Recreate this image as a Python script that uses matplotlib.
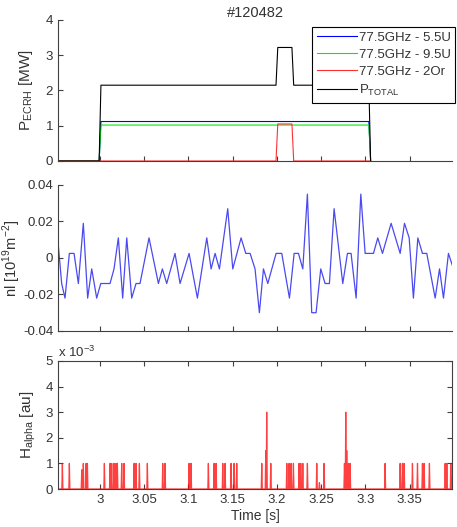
import numpy as np
import matplotlib.pyplot as plt
from matplotlib.ticker import FuncFormatter

plt.rcParams['font.family'] = ['Liberation Sans', 'DejaVu Sans']

# ECRH power [MW]
ecrh_t = [2.9525, 2.999, 3.001, 3.199, 3.201, 3.217, 3.219, 3.304, 3.306]
p_55u = [0, 0, 1.12, 1.12, 1.12, 1.12, 1.12, 1.12, 0]
p_95u = [0, 0, 1.02, 1.02, 1.02, 1.02, 1.02, 1.02, 0]
p_2or = [0, 0, 0, 0, 1.05, 1.05, 0, 0, 0]
p_total = [0, 0, 2.15, 2.15, 3.22, 3.22, 2.15, 2.15, 0]

# line density fluctuation
nl_t = [2.9517, 2.9566, 2.9604, 2.9653, 2.9706, 2.9755, 2.9811, 2.9860, 2.9906, 2.9962,
        3.0008, 3.0113, 3.0158, 3.0207, 3.0256, 3.0302, 3.0358, 3.0407, 3.0452, 3.0554,
        3.0660, 3.0705, 3.0754, 3.0848, 3.0905, 3.1007, 3.1101, 3.1207, 3.1256, 3.1301,
        3.1350, 3.1444, 3.1501, 3.1595, 3.1648, 3.1697, 3.1753, 3.1802, 3.1848, 3.1897,
        3.1991, 3.2055, 3.2142, 3.2195, 3.2244, 3.2293, 3.2345, 3.2394, 3.2443, 3.2496,
        3.2545, 3.2594, 3.2647, 3.2745, 3.2798, 3.2839, 3.2896, 3.2949, 3.2998, 3.3092,
        3.3141, 3.3194, 3.3292, 3.3394, 3.3443, 3.3496, 3.3544, 3.3594, 3.3646, 3.3695,
        3.3790, 3.3839, 3.3884, 3.3940, 3.3997]
nl_v = [0.013, -0.014, -0.022, 0.0025, 0.0025, -0.014, 0.019, -0.022, -0.006, -0.022,
        -0.014, -0.014, -0.006, 0.011, -0.022, 0.011, -0.022, -0.014, -0.014, 0.011,
        -0.014, -0.006, -0.014, 0.0025, -0.014, 0.0025, -0.022, 0.011, -0.006, 0.0025,
        -0.006, 0.027, -0.006, 0.011, 0.0025, 0.0025, -0.006, -0.030, -0.006, -0.014,
        0.0025, 0.0025, -0.022, 0.0025, 0.0025, -0.006, 0.035, -0.030, -0.030, -0.006,
        -0.014, -0.014, 0.027, -0.014, 0.0025, 0.0025, -0.022, 0.035, 0.0025, 0.0025,
        0.011, 0.0025, 0.019, 0.0025, 0.019, 0.011, -0.022, 0.011, 0.0025, 0.0025,
        -0.022, -0.006, -0.022, 0.0025, -0.006]

# H-alpha spikes
ha_t = [2.9574, 2.9653, 2.9793, 2.9811, 2.9842, 2.9857, 3.0049, 3.0113, 3.0132, 3.0158,
        3.0181, 3.0196, 3.0245, 3.0271, 3.0385, 3.0407, 3.0445, 3.0535, 3.0709, 3.0735,
        3.1007, 3.1029, 3.1225, 3.1290, 3.1312, 3.1388, 3.1414, 3.1482, 3.1516, 3.1546,
        3.1829, 3.1874, 3.1885, 3.1931, 3.2112, 3.2138, 3.2161, 3.2187, 3.2251, 3.2270,
        3.2293, 3.2345, 3.2451, 3.2481, 3.2534, 3.2764, 3.2779, 3.2790, 3.2809, 3.2828,
        3.3224, 3.3394, 3.3420, 3.3439, 3.3533, 3.3590, 3.3646, 3.3665, 3.3725, 3.3903,
        3.3922, 3.3967, 3.3990]
ha_h = [1e-3, 1e-3, 0.75e-3, 1e-3, 1e-3, 1e-3, 1e-3, 1e-3, 1e-3, 1e-3,
        1e-3, 1e-3, 1e-3, 1e-3, 1e-3, 1e-3, 1e-3, 1e-3, 1e-3, 1e-3,
        1e-3, 1e-3, 1e-3, 1e-3, 1e-3, 1e-3, 1e-3, 1e-3, 1e-3, 1e-3,
        1e-3, 1.5e-3, 3e-3, 1e-3, 1e-3, 1e-3, 1e-3, 1e-3, 1e-3, 1e-3,
        1e-3, 1e-3, 1e-3, 0.25e-3, 1e-3, 1e-3, 3e-3, 1.5e-3, 1e-3, 1e-3,
        1e-3, 1e-3, 1e-3, 1e-3, 1e-3, 1e-3, 1e-3, 1e-3, 1e-3, 1e-3,
        1e-3, 1e-3, 1e-3]

xticks = [3.0, 3.05, 3.1, 3.15, 3.2, 3.25, 3.3, 3.35]
xlim = (2.9525, 3.398)
grey = '#404040'
txt = '#333333'
fs = 9.5
lfs = 11

fig = plt.figure(figsize=(4.57, 5.27), dpi=100)
ax1 = fig.add_axes([0.127, 0.6945, 0.862, 0.2676])
ax2 = fig.add_axes([0.127, 0.372, 0.862, 0.277])
ax3 = fig.add_axes([0.127, 0.0721, 0.862, 0.243])

for ax in (ax1, ax2, ax3):
    ax.set_xlim(xlim)
    ax.set_xticks(xticks)
    for s in ax.spines.values():
        s.set_color(grey)
        s.set_linewidth(0.8)
    ax.tick_params(direction='in', length=3.5, width=0.8, colors=grey,
                   labelsize=fs, labelcolor=txt)

for ax in (ax1, ax2):
    ax.spines['top'].set_visible(False)
    ax.spines['right'].set_visible(False)
    ax.tick_params(labelbottom=False)

# top panel
ax1.plot(ecrh_t, p_55u, color='#0000ff', lw=0.8, label='77.5GHz - 5.5U')
ax1.plot(ecrh_t, p_95u, color='#00ee00', lw=0.8, label='77.5GHz - 9.5U')
ax1.plot(ecrh_t, p_2or, color='#ff3030', lw=0.8, label='77.5GHz - 2Or')
ax1.plot(ecrh_t, p_total, color='black', lw=0.8, label='P$_{\\mathregular{TOTAL}}$')
ax1.set_ylim(0, 4)
ax1.set_yticks([0, 1, 2, 3, 4])
ax1.set_ylabel('P$_{\\mathregular{ECRH}}$ [MW]', fontsize=lfs, color=txt)
ax1.yaxis.set_label_coords(-0.058, 0.5)
ax1.set_title('#120482', fontsize=10.5, color=txt, pad=1)
leg = ax1.legend(loc='upper right', bbox_to_anchor=(1.008, 0.951), borderaxespad=0,
                 fontsize=fs, fancybox=False, framealpha=1, edgecolor='black',
                 handlelength=3.0, handletextpad=0.15, labelspacing=0.37,
                 borderpad=0.35)
leg.get_frame().set_linewidth(0.8)
for t in leg.get_texts():
    t.set_color(txt)

# middle panel
ax2.plot(nl_t, nl_v, color='#2a2aee', lw=0.9, alpha=0.85)
ax2.set_ylim(-0.04, 0.04)
ax2.set_yticks([-0.04, -0.02, 0, 0.02, 0.04])
ax2.yaxis.set_major_formatter(FuncFormatter(lambda v, p: '0' if abs(v) < 1e-9 else f'{v:g}'))
ax2.set_ylabel('nl [10$^{\\mathregular{19}}$m$^{\\mathregular{-2}}$]', fontsize=10.5, color=txt)
ax2.yaxis.set_label_coords(-0.09, 0.5)

# bottom panel
w = 0.0006
xs, ys = [xlim[0]], [0]
for t, h in zip(ha_t, ha_h):
    xs += [t - w, t, t + w]
    ys += [0, h, 0]
xs.append(xlim[1])
ys.append(0)
ax3.plot(xs, ys, color='#ff0000', lw=0.9, alpha=0.75)
ax3.set_ylim(0, 5e-3)
ax3.set_yticks([0, 1e-3, 2e-3, 3e-3, 4e-3, 5e-3])
ax3.yaxis.set_major_formatter(FuncFormatter(lambda v, p: f'{v / 1e-3:.0f}'))
ax3.tick_params(top=True, right=True)
ax3.set_ylabel('H$_{\\mathregular{alpha}}$ [au]', fontsize=lfs, color=txt)
ax3.yaxis.set_label_coords(-0.051, 0.5)
ax3.set_xticklabels(['3', '3.05', '3.1', '3.15', '3.2', '3.25', '3.3', '3.35'])
ax3.set_xlabel('Time [s]', fontsize=10, color=txt, labelpad=2)
ax3.text(0.0, 1.005, 'x 10$^{\\mathregular{-3}}$', transform=ax3.transAxes,
         fontsize=fs, color=txt, ha='left', va='bottom')

fig.savefig('out.png', dpi=100)
